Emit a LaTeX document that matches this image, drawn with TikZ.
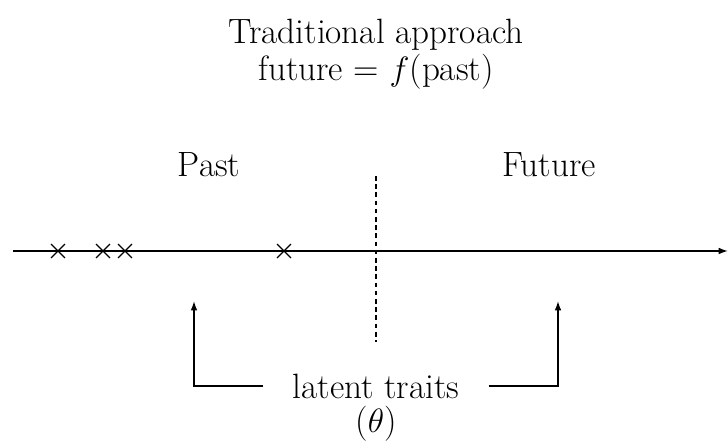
\documentclass[tikz,border=0pt]{standalone}
\usetikzlibrary{arrows.meta, shapes.misc, positioning}
\tikzstyle{txt} = [font=\fontsize{15}{16}\selectfont, align=center]
\tikzstyle{obs} = [cross out, draw=black, minimum size=0.19cm, inner sep=0pt, line width=0.5pt]
\tikzstyle{arrow} = [line width=0.6pt, -{Latex[length=1.4mm,width=1mm]}]

\begin{document}
\begin{tikzpicture}[x=0.015cm, y=-0.015cm, line width=0.6pt]
\useasboundingbox (0,0) rectangle (728,441);
% Title
\node (title) [txt] at (376,54) {Traditional approach\\ future = $f$(past)};
% Past and future
\node (past) [txt] at (209,165) {Past};
\node (future) [txt] at (549,165) {Future};
% Time axis
\coordinate (axstart) at (13,251);
\coordinate (axend) at (728,251);
\draw [arrow] (axstart) -- (axend);
\foreach \x [count=\i] in {58,103,125,284}
  \node (obs\i) [obs] at (\x,251) {};
% Present
\coordinate (nowtop) at (376,176);
\coordinate (nowbot) at (376,342);
\draw [line width=0.5pt, dash pattern=on 2pt off 1.5pt] (nowtop) -- (nowbot);
% Latent traits
\node (traits) [txt, inner xsep=0.43cm] at (376,386) {latent traits};
\node (theta) [txt] at (376,424) {($\theta$)};
\coordinate (pasttip) at (194,301);
\coordinate (futuretip) at (558,301);
\draw [arrow] (traits.west) -| (pasttip);
\draw [arrow] (traits.east) -| (futuretip);
\end{tikzpicture}
\end{document}
